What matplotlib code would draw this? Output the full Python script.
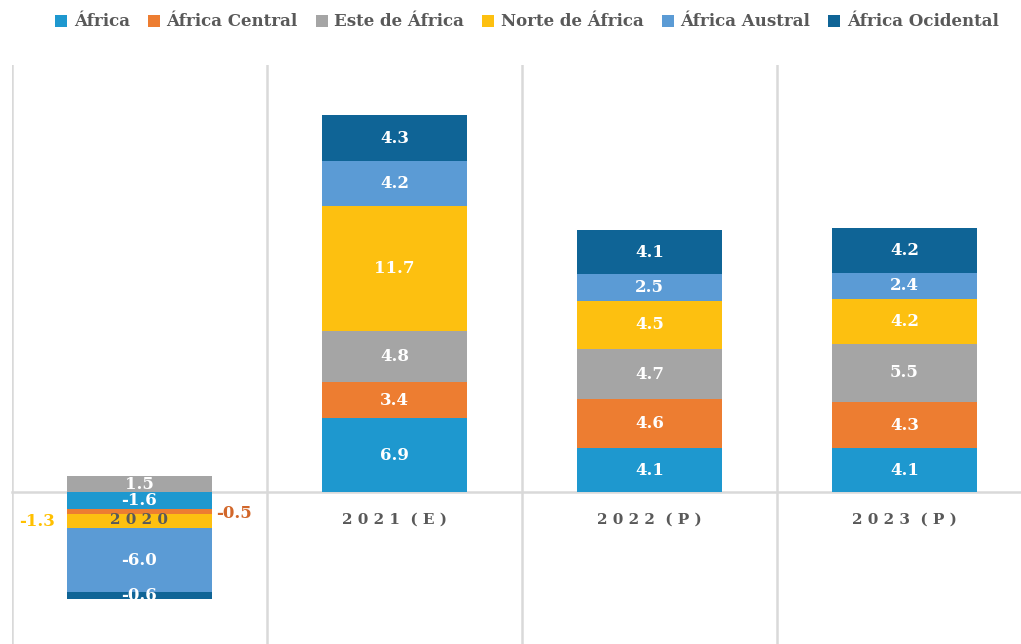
import matplotlib.pyplot as plt
import numpy as np

# Data
categories = ['2 0 2 0', '2 0 2 1  ( E )', '2 0 2 2  ( P )', '2 0 2 3  ( P )']
series = ['África', 'África Central', 'Este de África', 'Norte de África',
          'África Austral', 'África Ocidental']
africa = [-1.6, 6.9, 4.1, 4.1]
central = [-0.5, 3.4, 4.6, 4.3]
este = [1.5, 4.8, 4.7, 5.5]
norte = [-1.3, 11.7, 4.5, 4.2]
austral = [-6.0, 4.2, 2.5, 2.4]
ocidental = [-0.6, 4.3, 4.1, 4.2]

values = [africa, central, este, norte, austral, ocidental]
colors = ['#1E98CF', '#ED7D31', '#A5A5A5', '#FDC010', '#5B9BD5', '#0F6496']

plt.rcParams['font.family'] = ['DejaVu Serif']
text_grey = '#595959'
grid_grey = '#D9D9D9'

fig = plt.figure(figsize=(10.21, 6.44), dpi=100)
W, H = 1021, 644
ax = fig.add_axes([12 / W, 1 - 650 / H, 1020 / W, 585 / H])

x = np.arange(len(categories))
pos_base = np.zeros(len(categories))
neg_base = np.zeros(len(categories))
width = 0.565

for name, vals, col in zip(series, values, colors):
    vals = np.array(vals)
    bottoms = np.where(vals >= 0, pos_base, neg_base)
    ax.bar(x, vals, width, bottom=bottoms, color=col, label=name, zorder=2)
    for i, v in enumerate(vals):
        cy = bottoms[i] + v / 2
        txt = f'{v:.1f}'
        if i == 0 and name == 'Norte de África':
            ax.text(i - 0.33, cy, txt, ha='right', va='center', color='#FFC000',
                    fontsize=12, fontweight='bold', zorder=4)
        elif i == 0 and name == 'África Central':
            ax.text(i + 0.3, cy - 0.2, txt, ha='left', va='center', color='#D2672A',
                    fontsize=12, fontweight='bold', zorder=4)
        else:
            ax.text(i, cy, txt, ha='center', va='center', color='white',
                    fontsize=12, fontweight='bold', zorder=4)
    pos_base = np.where(vals >= 0, pos_base + vals, pos_base)
    neg_base = np.where(vals < 0, neg_base + vals, neg_base)

ax.set_xlim(-0.5, 3.5)
ax.set_ylim(-14.8, 40)

for b in [-0.5, 0.5, 1.5, 2.5]:
    ax.axvline(b, color=grid_grey, lw=1.8, zorder=1)

for s in ['top', 'right', 'left']:
    ax.spines[s].set_visible(False)
ax.spines['bottom'].set_position(('data', 0))
ax.spines['bottom'].set_color(grid_grey)
ax.spines['bottom'].set_linewidth(1.8)
ax.spines['bottom'].set_zorder(1)

ax.set_yticks([])
ax.set_xticks(x)
ax.set_xticklabels(categories, fontsize=11, fontweight='bold', color=text_grey)
ax.tick_params(axis='x', length=0, pad=15)
ax.xaxis.set_zorder(5)

leg = fig.legend(loc='center', bbox_to_anchor=(527 / W, 1 - 22 / H), ncol=6,
                 frameon=False, handlelength=0.7, handleheight=0.7,
                 handletextpad=0.4, columnspacing=1.1,
                 prop={'size': 12, 'weight': 'bold'})
for t in leg.get_texts():
    t.set_color(text_grey)

fig.savefig('out.png', dpi=100)
